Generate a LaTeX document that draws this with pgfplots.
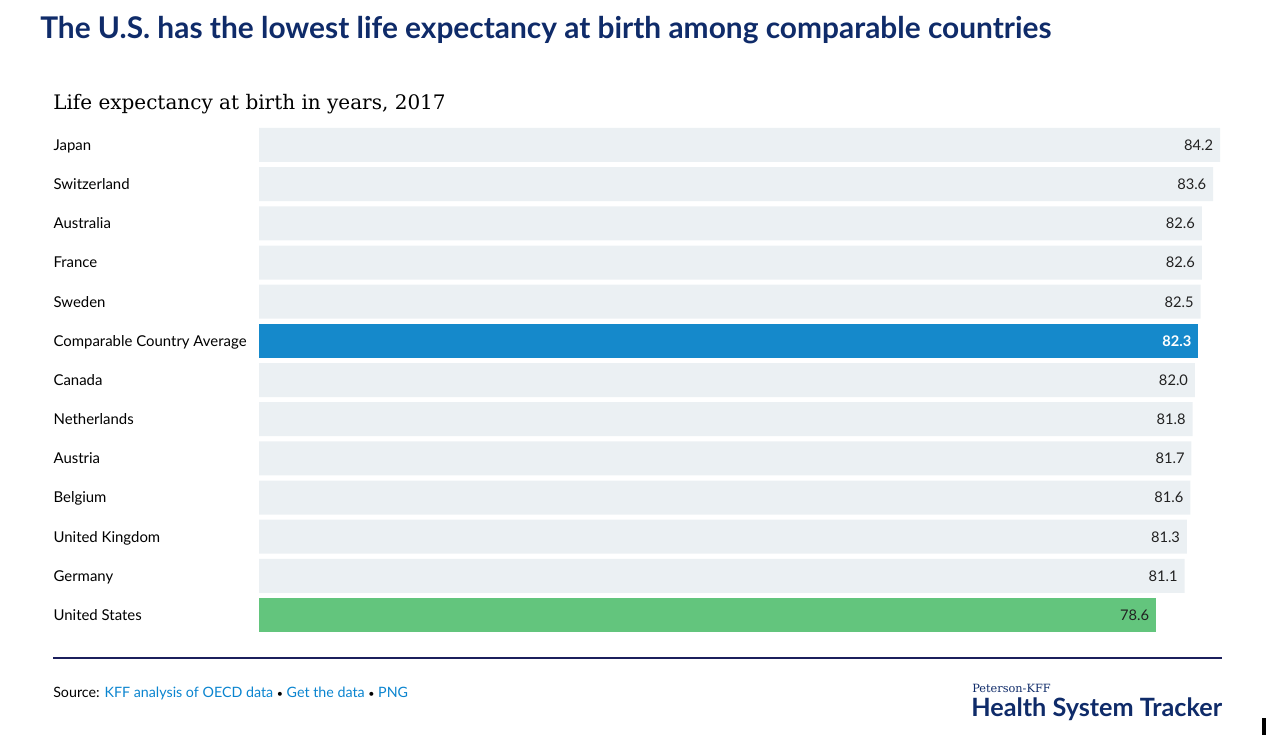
\documentclass[border=0pt]{standalone}
\usepackage{fontspec}
\setmainfont{Lato}
\newfontfamily\subfont{DejaVu Serif}
\usepackage{pgfplots}
\pgfplotsset{compat=1.18}
\definecolor{navy}{HTML}{0F2B69}
\definecolor{rule}{HTML}{1B1F5C}
\definecolor{barbg}{HTML}{EBF0F3}
\definecolor{avgblue}{HTML}{1589CB}
\definecolor{usgreen}{HTML}{63C57D}
\definecolor{linkblue}{HTML}{0A84CF}
\definecolor{numtext}{HTML}{222222}

\begin{document}
\begin{tikzpicture}[x=0.75pt,y=-0.75pt]
\path[use as bounding box] (0,0) rectangle (1266,742);

% title and subtitle
\node[anchor=base west, inner sep=0, text=navy,
      font=\bfseries\fontsize{22.4}{25}\selectfont] at (40,39)
  {The U.S. has the lowest life expectancy at birth among comparable countries};
\node[anchor=base west, inner sep=0,
      font=\subfont\fontsize{15}{18}\selectfont] at (53,109)
  {Life expectancy at birth in years, 2017};

\begin{axis}[
    at={(194.25pt,-94.05pt)}, anchor=north west,
    scale only axis, width=720.75pt, height=381.9pt,
    xmin=0, xmax=84.2, ymin=-0.5, ymax=12.5,
    y dir=reverse,
    xbar, bar shift=0pt, bar width=25.5pt,
    clip=false,
    axis line style={draw=none}, tick style={draw=none},
    xtick=\empty,
    ytick={0,...,12},
    yticklabels={Japan,Switzerland,Australia,France,Sweden,Comparable Country Average,Canada,Netherlands,Austria,Belgium,United Kingdom,Germany,United States},
    yticklabel style={anchor=base west, inner sep=0pt, xshift=-150pt, yshift=-4pt,
                      font=\fontsize{11.2}{13}\selectfont, text=black},
    nodes near coords,
    every node near coord/.append style={anchor=base east, inner sep=0pt, xshift=-5pt, yshift=-4pt,
                      font=\fontsize{11}{13}\selectfont, text=numtext},
    /pgf/number format/.cd, fixed, fixed zerofill, precision=1, assume math mode=true
  ]
  \addplot[fill=barbg, draw=none] coordinates {
    (84.2,0) (83.6,1) (82.6,2) (82.6,3) (82.5,4)
    (82.0,6) (81.8,7) (81.7,8) (81.6,9) (81.3,10) (81.1,11)};
  \addplot[fill=avgblue, draw=none,
           every node near coord/.append style={text=white, font=\bfseries\fontsize{11}{13}\selectfont}]
    coordinates {(82.3,5)};
  \addplot[fill=usgreen, draw=none] coordinates {(78.6,12)};
\end{axis}

% footer
\draw[rule, line width=1.1pt] (53,658) -- (1222,658);
\node[anchor=base west, inner sep=0, font=\fontsize{10.7}{12}\selectfont] at (53,697)
  {Source: \textcolor{linkblue}{KFF analysis of OECD data} {\fontsize{8}{9}\selectfont•} \textcolor{linkblue}{Get the data} {\fontsize{8}{9}\selectfont•} \textcolor{linkblue}{PNG}};
\node[anchor=base west, inner sep=0, text=navy, font=\subfont\fontsize{8.5}{10}\selectfont] at (972,692) {Peterson-KFF};
\node[anchor=base west, inner sep=0, text=navy, font=\bfseries\fontsize{18.9}{21}\selectfont] at (971,716) {Health System Tracker};
\fill[black] (1262,718) rectangle (1266,735);
\end{tikzpicture}
\end{document}
